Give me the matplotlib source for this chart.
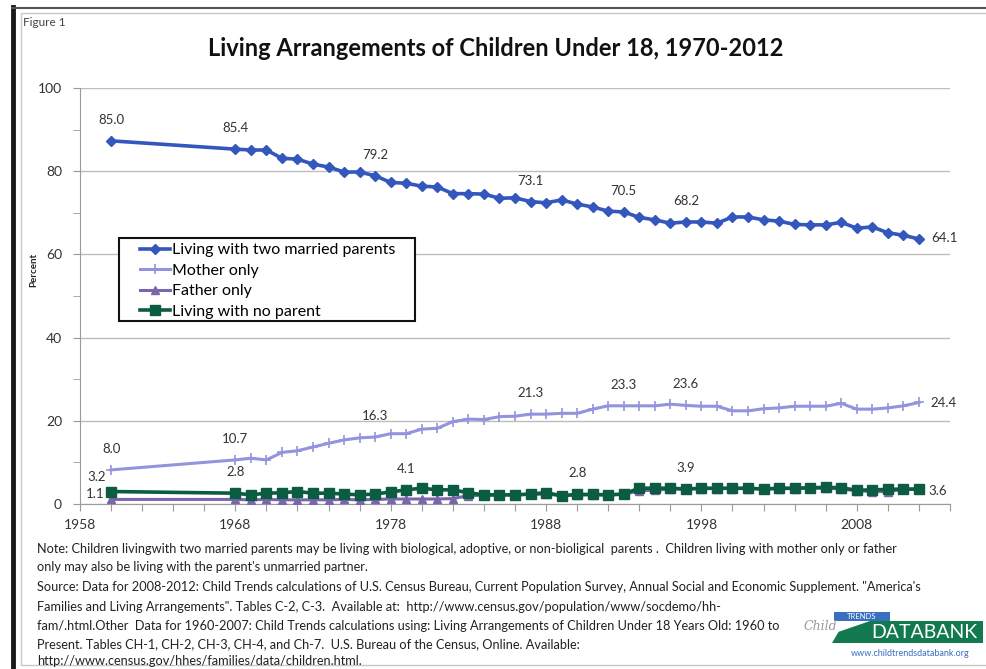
import numpy as np
import matplotlib.pyplot as plt
from matplotlib.patches import Rectangle, Polygon

plt.rcParams['font.family'] = ['Lato', 'DejaVu Sans']

# === prepare data ===
years = [1960] + list(range(1968, 2013))

two_parents = [87.3,
               85.3, 85.1, 85.1, 83.1, 82.9, 81.7, 81.0, 79.8, 79.8, 78.9,
               77.3, 77.1, 76.4, 76.2, 74.6, 74.6, 74.5, 73.5,
               73.6, 72.7, 72.4, 73.1, 72.1, 71.4, 70.4, 70.2, 68.9, 68.3, 67.5, 67.8, 67.8, 67.5,
               69.0, 69.0, 68.3, 68.0, 67.2, 67.1, 67.1, 67.7, 66.3, 66.6, 65.2, 64.6, 63.7]
mother_only = [8.2,
               10.6, 11.0, 10.6, 12.4, 12.8, 13.7, 14.6, 15.4, 15.9, 16.1,
               16.9, 16.9, 18.0, 18.2, 19.8, 20.4, 20.3, 21.0,
               21.1, 21.6, 21.6, 21.8, 21.8, 22.8, 23.6, 23.6, 23.6, 23.6, 24.0, 23.7, 23.5, 23.5,
               22.4, 22.4, 22.9, 23.1, 23.5, 23.5, 23.5, 24.2, 22.8, 22.8, 23.1, 23.6, 24.4]
father_only = [1.1,
               1.1, 1.0, 1.1, 1.0, 1.0, 1.0, 1.0, 1.1, 1.0, 1.1,
               1.2, 1.2, 1.2, 1.2, 1.3, 2.0, 2.1, 2.2,
               2.2, 2.3, 2.4, 2.0, 2.2, 2.2, 2.2, 2.3, 3.2, 3.3, 3.6, 3.6, 3.7, 3.7,
               3.7, 3.7, 3.6, 3.7, 3.7, 3.8, 3.8, 3.6, 3.2, 3.0, 3.0, 3.5, 3.5]
no_parent = [3.0,
             2.6, 2.2, 2.6, 2.7, 3.0, 2.6, 2.6, 2.4, 2.2, 2.4,
             2.9, 3.4, 3.8, 3.4, 3.4, 2.7, 2.2, 2.2,
             2.2, 2.4, 2.7, 2.0, 2.3, 2.3, 2.2, 2.4, 3.8, 3.8, 3.8, 3.6, 3.8, 3.8,
             3.8, 3.8, 3.6, 3.8, 3.8, 3.9, 4.0, 3.9, 3.3, 3.4, 3.5, 3.6, 3.6]

series_names = ['Living with two married parents', 'Mother only',
                'Father only', 'Living with no parent']

# data labels: (year, text)
two_labels = [(1960, '85.0'), (1968, '85.4'), (1977, '79.2'), (1987, '73.1'),
              (1993, '70.5'), (1997, '68.2')]
mother_labels = [(1960, '8.0'), (1968, '10.7'), (1977, '16.3'), (1987, '21.3'),
                 (1993, '23.3'), (1997, '23.6')]
no_parent_labels = [(1968, '2.8'), (1979, '4.1'), (1990, '2.8'), (1997, '3.9')]
two_end, mother_end, no_parent_end = '64.1', '24.4', '3.6'
no_parent_first, father_first = '3.2', '1.1'

year_ticks = [1958, 1968, 1978, 1988, 1998, 2008]
pct_ticks = [0, 20, 40, 60, 80, 100]

title = 'Living Arrangements of Children Under 18, 1970-2012'
notes = [
    "Note: Children livingwith two married parents may be living with biological, adoptive, or non-bioligical  parents .  Children living with mother only or father",
    "only may also be living with the parent's unmarried partner.",
    "Source: Data for 2008-2012: Child Trends calculations of U.S. Census Bureau, Current Population Survey, Annual Social and Economic Supplement. \"America's",
    "Families and Living Arrangements\". Tables C-2, C-3.  Available at:  http://www.census.gov/population/www/socdemo/hh-",
    "fam/.html.Other  Data for 1960-2007: Child Trends calculations using: Living Arrangements of Children Under 18 Years Old: 1960 to",
    "Present. Tables CH-1, CH-2, CH-3, CH-4, and Ch-7.  U.S. Bureau of the Census, Online. Available:",
    "http://www.census.gov/hhes/families/data/children.html.",
]
notes_y = [549, 567, 587, 607, 626, 644, 661]

# === plot data ===
W, H = 986, 669
fig = plt.figure(figsize=(W / 100, H / 100), dpi=100)

# background canvas in pixel coords for frame, notes and logo
bg = fig.add_axes([0, 0, 1, 1], zorder=0)
bg.set_xlim(0, W)
bg.set_ylim(H, 0)
bg.axis('off')
bg.add_patch(Rectangle((11, 8), W, H, facecolor='white', edgecolor='none'))
bg.plot([13, 13], [7, H], color='#1a1a1a', lw=3.5)
bg.plot([12, W], [8, 8], color='#555555', lw=1.5)
bg.add_patch(Rectangle((21, 13), W, 652, facecolor='none', edgecolor='#c8c8c8', lw=1))
bg.text(23, 22, 'Figure 1', fontsize=8.5, color='#444444', va='center', ha='left')
bg.text(496, 48, title, fontsize=17, fontweight='bold', color='#111111',
        ha='center', va='center')
bg.text(34, 270, 'Percent', fontsize=7, fontweight='bold', rotation=90,
        ha='center', va='center', color='#222222')
for line, y in zip(notes, notes_y):
    bg.text(37, y, line, fontsize=9.2, color='#222222', ha='left', va='center')

# Child Trends DataBank logo
bg.add_patch(Polygon([[845, 621], [983, 621], [983, 643], [832, 643]],
                     closed=True, facecolor='#137a4f', edgecolor='none'))
bg.add_patch(Polygon([[832, 621], [870, 621], [838, 632]], closed=True,
                     facecolor='white', edgecolor='none'))
bg.add_patch(Rectangle((834, 612), 56, 9, facecolor='#3a6fc0', edgecolor='none'))
bg.text(862, 616.5, 'TRENDS', fontsize=5.5, color='white', ha='center', va='center')
bg.text(820, 627, 'Child', fontsize=9, color='#999999', ha='center', va='center',
        family='DejaVu Serif', style='italic')
bg.text(924, 633, 'DATABANK', fontsize=14, color='white', ha='center', va='center')
bg.text(910, 653, 'www.childtrendsdatabank.org', fontsize=6.5, color='#3a6fc0',
        ha='center', va='center')

ax = fig.add_axes([80 / W, 1 - 504 / H, 870 / W, 416 / H], zorder=1)
ax.patch.set_alpha(0)

# opaque legend frame (Excel-style, wide side padding), above the gridlines
ax.add_patch(Rectangle((119, 238), 296, 83, transform=bg.transData, clip_on=False,
                       facecolor='white', edgecolor='#111111', lw=1.5, zorder=5.5))

ax.plot(years, two_parents, color='#3457be', lw=2.6, marker='D', ms=5.5,
        label=series_names[0], zorder=5)
ax.plot(years, mother_only, color='#9393de', lw=2.2, marker='+', ms=7, mew=1.2,
        label=series_names[1], zorder=4)
ax.plot(years, father_only, color='#7a66aa', lw=2.2, marker='^', ms=6,
        label=series_names[2], zorder=3)
ax.plot(years, no_parent, color='#0b5c43', lw=2.6, marker='s', ms=7.5,
        label=series_names[3], zorder=4)

lab_kw = dict(textcoords='offset pixels', fontsize=9.5, color='#333333',
              va='center')
for values, labels in [(two_parents, two_labels), (mother_only, mother_labels),
                       (no_parent, no_parent_labels)]:
    for yr, txt in labels:
        ax.annotate(txt, (yr, values[years.index(yr)]), xytext=(0, 21),
                    ha='center', **lab_kw)
ax.annotate(two_end, (years[-1], two_parents[-1]), xytext=(12, 1), ha='left', **lab_kw)
ax.annotate(mother_end, (years[-1], mother_only[-1]), xytext=(12, -1), ha='left', **lab_kw)
ax.annotate(no_parent_end, (years[-1], no_parent[-1]), xytext=(9, -2), ha='left', **lab_kw)
ax.annotate(no_parent_first, (years[0], no_parent[0]), xytext=(-14, 15), ha='center', **lab_kw)
ax.annotate(father_first, (years[0], father_only[0]), xytext=(-16, 5), ha='center', **lab_kw)

ax.set_xlim(1958, 2014)
ax.set_ylim(0, 100)
ax.set_xticks(range(1958, 2015, 2))
ax.set_xticklabels([str(t) if t in year_ticks else '' for t in range(1958, 2015, 2)])
ax.set_yticks(pct_ticks)
ax.set_yticks(range(10, 100, 20), minor=True)
ax.tick_params(axis='both', which='both', direction='out', length=5,
               color='#9a9a9a', labelsize=10, labelcolor='#333333')
ax.tick_params(axis='y', pad=8)
ax.tick_params(axis='x', pad=6)
ax.grid(axis='y', color='#bdbdbd', lw=1)
ax.set_axisbelow(True)
for s in ['top', 'right']:
    ax.spines[s].set_visible(False)
for s in ['left', 'bottom']:
    ax.spines[s].set_color('#9a9a9a')

leg = ax.legend(loc='upper left', bbox_to_anchor=(60 / 870, (504 - 243) / 416),
                fontsize=11.5, frameon=False, borderpad=0,
                handlelength=1.9, handletextpad=0.1, labelspacing=0.4,
                borderaxespad=0)
leg.set_zorder(6)

plt.savefig('out.png', dpi=100)
